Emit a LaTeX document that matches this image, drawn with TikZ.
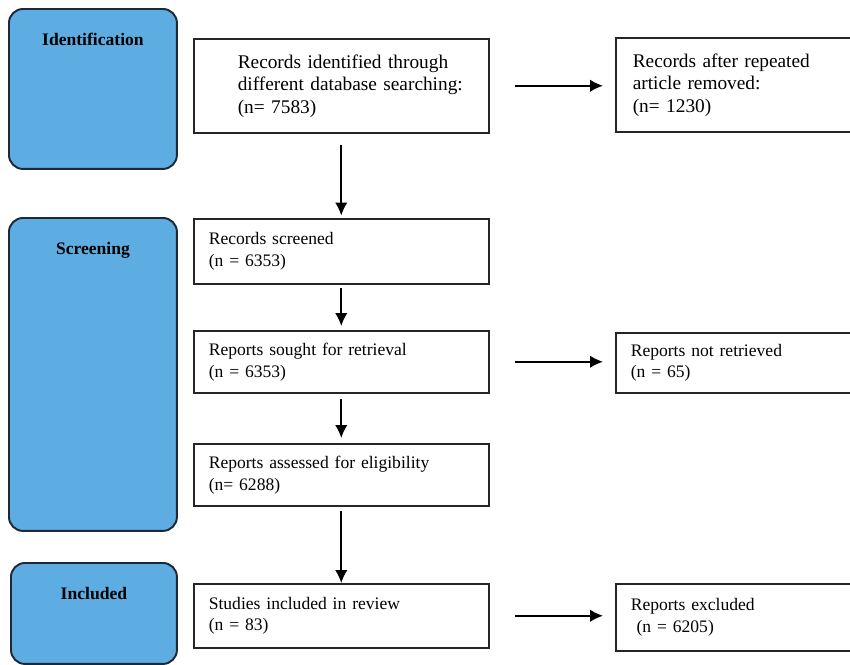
\documentclass[tikz,border=0pt]{standalone}
\usepackage{fontspec}
\setmainfont{Liberation Serif}
\usetikzlibrary{arrows.meta}
\definecolor{stageblue}{RGB}{93,173,226}
\definecolor{stageline}{RGB}{30,40,55}

\tikzset{
  stage/.style={draw=stageline, line width=1.1pt, fill=stageblue, rounded corners=8pt,
    anchor=north west, inner ysep=0pt, minimum width=3.36cm, align=center,
    font=\fontsize{10}{12}\selectfont\bfseries, text height=0.74cm},
  flowbox/.style={draw=black!85, line width=0.9pt, anchor=north west, align=left,
    inner xsep=0pt, text width=5.9cm, font=\fontsize{10}{12.5}\selectfont,
    execute at begin node={\leftskip=0.3cm}},
  arrow/.style={-{Latex[length=2.6mm,width=2.5mm]}, line width=1pt},
}

\begin{document}
\begin{tikzpicture}[x=0.02cm, y=-0.02cm]
\useasboundingbox (0,0) rectangle (850,664);

% stages
\node [stage, text depth=2.46cm] (identst) at (8,8) {Identification};
\node [stage, text depth=5.52cm] (screenst) at (8,217) {Screening};
\node [stage, text depth=1.28cm, minimum width=3.32cm] (inclst) at (10,562) {Included};

% main column
\node [flowbox, minimum height=1.88cm, font=\fontsize{11}{12.8}\selectfont,
  execute at begin node={\leftskip=0.88cm}] (records) at (193,38)
  {Records identified through\\different database searching:\\(n= 7583)};
\node [flowbox, minimum height=1.3cm] (screened) at (193,218) {Records screened\\(n = 6353)};
\node [flowbox, minimum height=1.24cm] (sought) at (193,330) {Reports sought for retrieval\\(n = 6353)};
\node [flowbox, minimum height=1.24cm] (assessed) at (193,443) {Reports assessed for eligibility\\(n= 6288)};
\node [flowbox, minimum height=1.28cm] (included) at (193,583) {Studies included in review\\(n = 83)};

% side column
\node [flowbox, text width=5cm, minimum height=1.88cm, font=\fontsize{11}{12.8}\selectfont,
  execute at begin node={\leftskip=0.34cm}] (afterdup) at (615,37)
  {Records after repeated\\article removed:\\(n= 1230)};
\node [flowbox, text width=5cm, minimum height=1.2cm] (notretr) at (615,332) {Reports not retrieved\\(n = 65)};
\node [flowbox, text width=5cm, minimum height=1.34cm] (excluded) at (615,583) {Reports excluded\\~(n = 6205)};

% arrows down
\draw [arrow, shorten <=0.22cm, shorten >=0.05cm] (records) -- (screened);
\draw [arrow, shorten <=0.06cm, shorten >=0.08cm] (screened) -- (sought);
\draw [arrow, shorten <=0.1cm, shorten >=0.1cm] (sought) -- (assessed);
\draw [arrow, shorten <=0.08cm] (assessed) -- (included);

% arrows right
\draw [arrow, shorten <=0.5cm, shorten >=0.24cm] (records.east) -- (records.east -| afterdup.west);
\draw [arrow, shorten <=0.5cm, shorten >=0.24cm] (sought.east) -- (sought.east -| notretr.west);
\draw [arrow, shorten <=0.5cm, shorten >=0.24cm] (included.east) -- (included.east -| excluded.west);

\end{tikzpicture}
\end{document}
